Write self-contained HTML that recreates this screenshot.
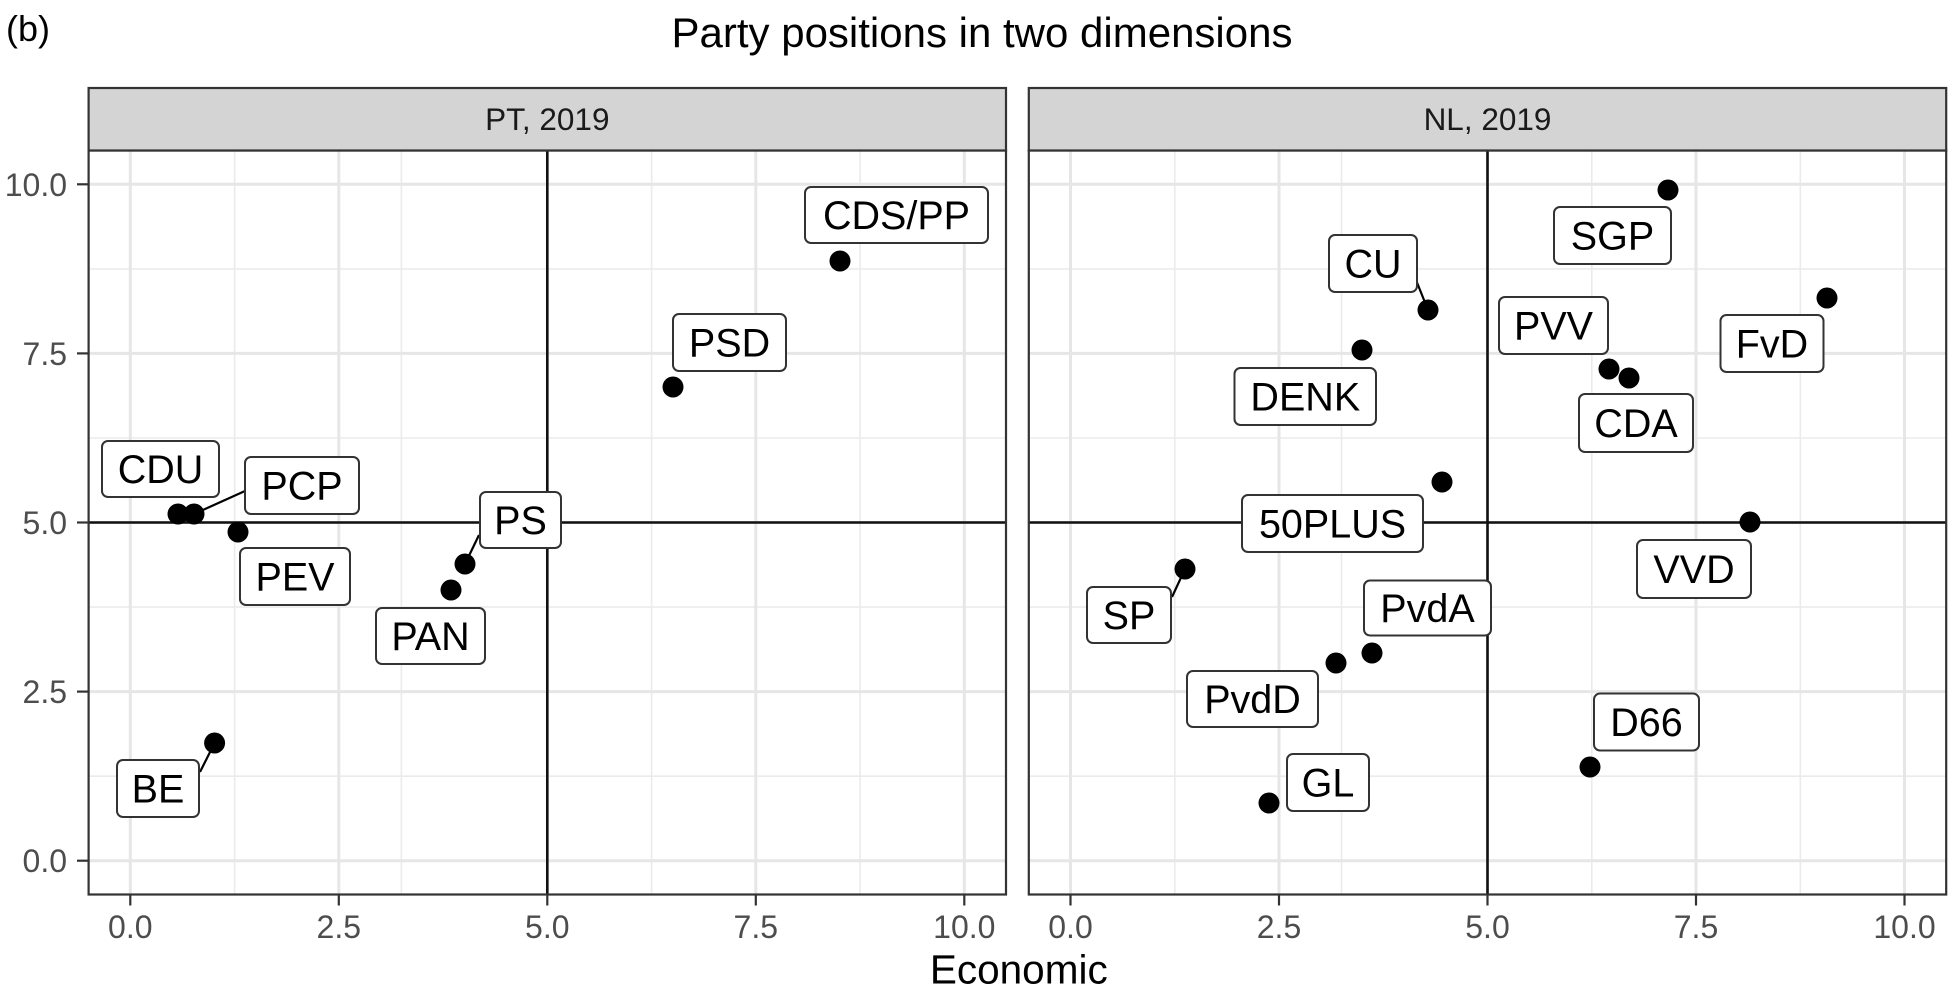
<!DOCTYPE html>
<html>
<head>
<meta charset="utf-8">
<style>
  html,body{margin:0;padding:0;background:#fff;}
  svg{display:block;}
  text{font-family:"Liberation Sans", Arial, sans-serif;}
</style>
</head>
<body>
<svg width="1958" height="994" viewBox="0 0 1958 994" xmlns="http://www.w3.org/2000/svg">
  <rect width="1958" height="994" fill="#fff"/>

  <!-- Title and tag -->
  <text x="6" y="41" font-size="36" fill="#000">(b)</text>
  <text x="982" y="47" font-size="42" fill="#000" text-anchor="middle">Party positions in two dimensions</text>

  <!-- ============ LEFT PANEL ============ -->
  <g>
    <rect x="88.6" y="150.5" width="917.4" height="744" fill="#fff"/>
    <!-- minor grid -->
    <g stroke="#ebebeb" stroke-width="1.6">
      <line x1="234.6" y1="150.5" x2="234.6" y2="894.5"/>
      <line x1="401.4" y1="150.5" x2="401.4" y2="894.5"/>
      <line x1="651.6" y1="150.5" x2="651.6" y2="894.5"/>
      <line x1="860.1" y1="150.5" x2="860.1" y2="894.5"/>
      <line x1="88.6" y1="776.2" x2="1006" y2="776.2"/>
      <line x1="88.6" y1="607.1" x2="1006" y2="607.1"/>
      <line x1="88.6" y1="438.0" x2="1006" y2="438.0"/>
      <line x1="88.6" y1="268.9" x2="1006" y2="268.9"/>
    </g>
    <!-- major grid -->
    <g stroke="#e6e6e6" stroke-width="3">
      <line x1="130.3" y1="150.5" x2="130.3" y2="894.5"/>
      <line x1="338.8" y1="150.5" x2="338.8" y2="894.5"/>
      <line x1="547.3" y1="150.5" x2="547.3" y2="894.5"/>
      <line x1="755.8" y1="150.5" x2="755.8" y2="894.5"/>
      <line x1="964.3" y1="150.5" x2="964.3" y2="894.5"/>
      <line x1="88.6" y1="860.7" x2="1006" y2="860.7"/>
      <line x1="88.6" y1="691.6" x2="1006" y2="691.6"/>
      <line x1="88.6" y1="522.5" x2="1006" y2="522.5"/>
      <line x1="88.6" y1="353.4" x2="1006" y2="353.4"/>
      <line x1="88.6" y1="184.3" x2="1006" y2="184.3"/>
    </g>
    <!-- reference lines -->
    <line x1="88.6" y1="522.5" x2="1006" y2="522.5" stroke="#111" stroke-width="2.6"/>
    <line x1="547.3" y1="150.5" x2="547.3" y2="894.5" stroke="#111" stroke-width="2.6"/>
    <!-- segments -->
    <g stroke="#000" stroke-width="2.2">
      <line x1="194" y1="514" x2="245" y2="491"/>
      <line x1="465" y1="564" x2="479" y2="535"/>
      <line x1="214.6" y1="743" x2="200" y2="772"/>
    </g>
    <!-- points -->
    <g fill="#000">
      <circle cx="178" cy="514" r="10.5"/>
      <circle cx="194" cy="514" r="10.5"/>
      <circle cx="238" cy="532" r="10.5"/>
      <circle cx="465" cy="564" r="10.5"/>
      <circle cx="451" cy="590" r="10.5"/>
      <circle cx="673" cy="387" r="10.5"/>
      <circle cx="840" cy="261" r="10.5"/>
      <circle cx="214.6" cy="743" r="10.5"/>
    </g>
    <!-- labels -->
    <g fill="#fff" stroke="#333" stroke-width="2">
      <rect x="102" y="441" width="117" height="56" rx="6"/>
      <rect x="245" y="457" width="114" height="57" rx="6"/>
      <rect x="240" y="548" width="110" height="57" rx="6"/>
      <rect x="480" y="492" width="81" height="56" rx="6"/>
      <rect x="376" y="608" width="109" height="56" rx="6"/>
      <rect x="673" y="314" width="113" height="57" rx="6"/>
      <rect x="805" y="187" width="183" height="56" rx="6"/>
      <rect x="117" y="760" width="82" height="57" rx="6"/>
    </g>
    <g font-size="39.5" fill="#000" text-anchor="middle">
      <text x="160.5" y="483">CDU</text>
      <text x="302" y="499.5">PCP</text>
      <text x="295" y="590.5">PEV</text>
      <text x="520.5" y="534">PS</text>
      <text x="430.5" y="650">PAN</text>
      <text x="729.5" y="356.5">PSD</text>
      <text x="896.5" y="229">CDS/PP</text>
      <text x="158" y="802.5">BE</text>
    </g>
    <rect x="88.6" y="150.5" width="917.4" height="744" fill="none" stroke="#333" stroke-width="2.2"/>
    <!-- strip -->
    <rect x="88.6" y="88" width="917.4" height="62.5" fill="#d4d4d4" stroke="#333" stroke-width="2.2"/>
    <text x="547.3" y="130" font-size="31.5" fill="#1a1a1a" text-anchor="middle">PT, 2019</text>
  </g>

  <!-- ============ RIGHT PANEL ============ -->
  <g>
    <rect x="1028.8" y="150.5" width="917.4" height="744" fill="#fff"/>
    <g stroke="#ebebeb" stroke-width="1.6">
      <line x1="1174.8" y1="150.5" x2="1174.8" y2="894.5"/>
      <line x1="1341.5" y1="150.5" x2="1341.5" y2="894.5"/>
      <line x1="1591.8" y1="150.5" x2="1591.8" y2="894.5"/>
      <line x1="1800.3" y1="150.5" x2="1800.3" y2="894.5"/>
      <line x1="1028.8" y1="776.2" x2="1946.2" y2="776.2"/>
      <line x1="1028.8" y1="607.1" x2="1946.2" y2="607.1"/>
      <line x1="1028.8" y1="438.0" x2="1946.2" y2="438.0"/>
      <line x1="1028.8" y1="268.9" x2="1946.2" y2="268.9"/>
    </g>
    <g stroke="#e6e6e6" stroke-width="3">
      <line x1="1070.5" y1="150.5" x2="1070.5" y2="894.5"/>
      <line x1="1279" y1="150.5" x2="1279" y2="894.5"/>
      <line x1="1487.5" y1="150.5" x2="1487.5" y2="894.5"/>
      <line x1="1696" y1="150.5" x2="1696" y2="894.5"/>
      <line x1="1904.5" y1="150.5" x2="1904.5" y2="894.5"/>
      <line x1="1028.8" y1="860.7" x2="1946.2" y2="860.7"/>
      <line x1="1028.8" y1="691.6" x2="1946.2" y2="691.6"/>
      <line x1="1028.8" y1="522.5" x2="1946.2" y2="522.5"/>
      <line x1="1028.8" y1="353.4" x2="1946.2" y2="353.4"/>
      <line x1="1028.8" y1="184.3" x2="1946.2" y2="184.3"/>
    </g>
    <line x1="1028.8" y1="522.5" x2="1946.2" y2="522.5" stroke="#111" stroke-width="2.6"/>
    <line x1="1487.5" y1="150.5" x2="1487.5" y2="894.5" stroke="#111" stroke-width="2.6"/>
    <g stroke="#000" stroke-width="2.2">
      <line x1="1428" y1="310" x2="1416" y2="280"/>
      <line x1="1185" y1="569" x2="1172" y2="597"/>
    </g>
    <g fill="#000">
      <circle cx="1668" cy="190" r="10.5"/>
      <circle cx="1428" cy="310" r="10.5"/>
      <circle cx="1362" cy="350" r="10.5"/>
      <circle cx="1609" cy="369" r="10.5"/>
      <circle cx="1629" cy="378" r="10.5"/>
      <circle cx="1827" cy="298" r="10.5"/>
      <circle cx="1442" cy="482" r="10.5"/>
      <circle cx="1750" cy="522" r="10.5"/>
      <circle cx="1185" cy="569" r="10.5"/>
      <circle cx="1372" cy="653" r="10.5"/>
      <circle cx="1336" cy="663" r="10.5"/>
      <circle cx="1269" cy="803" r="10.5"/>
      <circle cx="1590" cy="767" r="10.5"/>
    </g>
    <g fill="#fff" stroke="#333" stroke-width="2">
      <rect x="1554" y="207" width="117" height="57" rx="6"/>
      <rect x="1329" y="235" width="88" height="57" rx="6"/>
      <rect x="1234.5" y="368" width="141.5" height="57" rx="6"/>
      <rect x="1499" y="297" width="109" height="57" rx="6"/>
      <rect x="1579" y="394" width="114" height="58" rx="6"/>
      <rect x="1720.5" y="315" width="103" height="57" rx="6"/>
      <rect x="1242" y="495" width="181" height="57" rx="6"/>
      <rect x="1637" y="540" width="114" height="58" rx="6"/>
      <rect x="1087" y="587" width="84" height="56" rx="6"/>
      <rect x="1364" y="580.5" width="127" height="55" rx="6"/>
      <rect x="1187" y="671" width="131" height="56" rx="6"/>
      <rect x="1287" y="754" width="82" height="57" rx="6"/>
      <rect x="1594" y="693.5" width="105" height="57" rx="6"/>
    </g>
    <g font-size="39.5" fill="#000" text-anchor="middle">
      <text x="1612.5" y="249.5">SGP</text>
      <text x="1373" y="277.5">CU</text>
      <text x="1305.3" y="410.5">DENK</text>
      <text x="1553.5" y="339.5">PVV</text>
      <text x="1636" y="437">CDA</text>
      <text x="1772" y="357.5">FvD</text>
      <text x="1332.5" y="537.5">50PLUS</text>
      <text x="1694" y="583">VVD</text>
      <text x="1129" y="629">SP</text>
      <text x="1427.5" y="622">PvdA</text>
      <text x="1252.5" y="713">PvdD</text>
      <text x="1328" y="796.5">GL</text>
      <text x="1646.5" y="736">D66</text>
    </g>
    <rect x="1028.8" y="150.5" width="917.4" height="744" fill="none" stroke="#333" stroke-width="2.2"/>
    <rect x="1028.8" y="88" width="917.4" height="62.5" fill="#d4d4d4" stroke="#333" stroke-width="2.2"/>
    <text x="1487.5" y="130" font-size="31.5" fill="#1a1a1a" text-anchor="middle">NL, 2019</text>
  </g>

  <!-- ============ AXES ============ -->
  <!-- y ticks -->
  <g stroke="#333" stroke-width="2.2">
    <line x1="77" y1="860.7" x2="88.6" y2="860.7"/>
    <line x1="77" y1="691.6" x2="88.6" y2="691.6"/>
    <line x1="77" y1="522.5" x2="88.6" y2="522.5"/>
    <line x1="77" y1="353.4" x2="88.6" y2="353.4"/>
    <line x1="77" y1="184.3" x2="88.6" y2="184.3"/>
  </g>
  <g font-size="32" fill="#4d4d4d" text-anchor="end">
    <text x="67" y="872.2">0.0</text>
    <text x="67" y="703.1">2.5</text>
    <text x="67" y="534">5.0</text>
    <text x="67" y="364.9">7.5</text>
    <text x="67" y="195.8">10.0</text>
  </g>
  <!-- x ticks -->
  <g stroke="#333" stroke-width="2.2">
    <line x1="130.3" y1="894.5" x2="130.3" y2="905.5"/>
    <line x1="338.8" y1="894.5" x2="338.8" y2="905.5"/>
    <line x1="547.3" y1="894.5" x2="547.3" y2="905.5"/>
    <line x1="755.8" y1="894.5" x2="755.8" y2="905.5"/>
    <line x1="964.3" y1="894.5" x2="964.3" y2="905.5"/>
    <line x1="1070.5" y1="894.5" x2="1070.5" y2="905.5"/>
    <line x1="1279" y1="894.5" x2="1279" y2="905.5"/>
    <line x1="1487.5" y1="894.5" x2="1487.5" y2="905.5"/>
    <line x1="1696" y1="894.5" x2="1696" y2="905.5"/>
    <line x1="1904.5" y1="894.5" x2="1904.5" y2="905.5"/>
  </g>
  <g font-size="32" fill="#4d4d4d" text-anchor="middle">
    <text x="130.3" y="938">0.0</text>
    <text x="338.8" y="938">2.5</text>
    <text x="547.3" y="938">5.0</text>
    <text x="755.8" y="938">7.5</text>
    <text x="964.3" y="938">10.0</text>
    <text x="1070.5" y="938">0.0</text>
    <text x="1279" y="938">2.5</text>
    <text x="1487.5" y="938">5.0</text>
    <text x="1696" y="938">7.5</text>
    <text x="1904.5" y="938">10.0</text>
  </g>
  <text x="1018.8" y="983.3" font-size="40.5" fill="#000" text-anchor="middle">Economic</text>
</svg>
</body>
</html>
